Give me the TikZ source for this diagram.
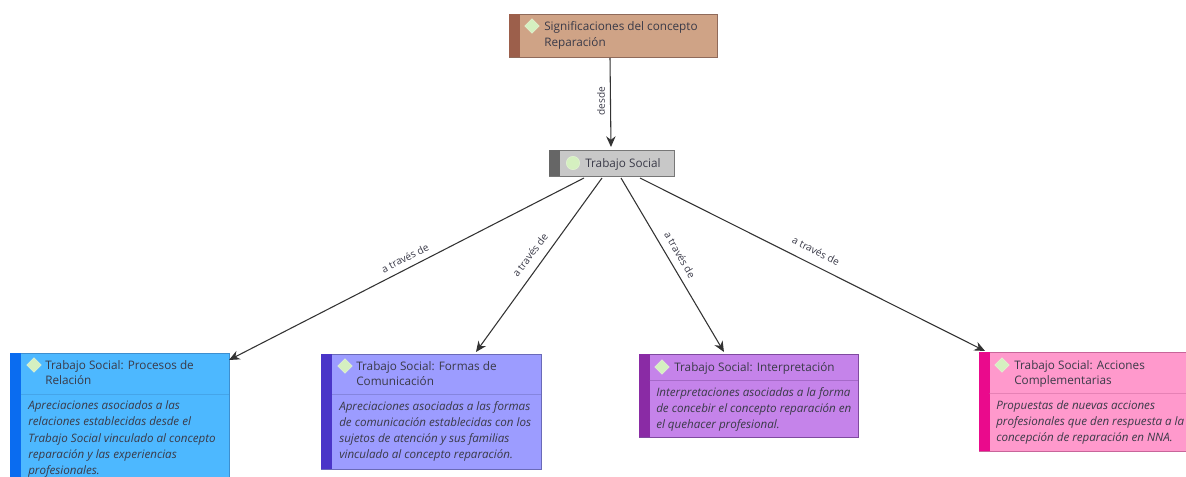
\documentclass[tikz,border=0pt]{standalone}
\usepackage{fontspec}
\setmainfont{Open Sans}
\usetikzlibrary{calc,arrows.meta,shapes.geometric}
\definecolor{cTop}{HTML}{CFA386}\definecolor{sTop}{HTML}{9C5F4B}\definecolor{eTop}{HTML}{8F6A5A}
\definecolor{cTs}{HTML}{C8C8C8}\definecolor{sTs}{HTML}{666666}\definecolor{eTs}{HTML}{777777}
\definecolor{cBl}{HTML}{4DB8FF}\definecolor{sBl}{HTML}{0A6CF0}\definecolor{eBl}{HTML}{3D8FD0}
\definecolor{cPe}{HTML}{9C9CFF}\definecolor{sPe}{HTML}{4A35C8}\definecolor{ePe}{HTML}{6A6AB8}
\definecolor{cPu}{HTML}{C583EA}\definecolor{sPu}{HTML}{8A2BA5}\definecolor{ePu}{HTML}{7F4A9F}
\definecolor{cPi}{HTML}{FF99CC}\definecolor{sPi}{HTML}{EA0A8C}\definecolor{ePi}{HTML}{C8659A}
\definecolor{ink}{HTML}{3A3A48}
\definecolor{gem}{HTML}{D5F0C0}
\tikzset{
  x=0.75pt,y=-0.75pt,
  boxbase/.style={draw,line width=0.7pt,anchor=north west,inner sep=0pt,outer sep=0pt},
  strip/.style={anchor=north west,inner sep=0pt,outer sep=0pt},
  title/.style={anchor=north west,inner sep=0pt,align=left,text=ink,font=\fontsize{8.8pt}{11.8pt}\selectfont},
  desc/.style={anchor=north west,inner sep=0pt,align=left,text=ink,font=\fontsize{8.7pt}{12.2pt}\selectfont\itshape},
  gemstyle/.style={diamond,fill=gem,draw=gem!70!white,minimum size=11pt,inner sep=0pt},
  conn/.style={draw=black!80,line width=0.8pt,-{Stealth[length=8pt,width=7pt]}},
  edgelabel/.style={inner sep=0pt,text=ink,font=\fontsize{7.6pt}{9pt}\selectfont},
  divider/.style={line width=0.4pt,opacity=0.45}
}
\newcommand{\mybox}[8]{% name,x,y,w,h,fill,strip,edge
  \node[boxbase,fill=#6,draw=#8,minimum width=#4*0.75pt,minimum height=#5*0.75pt] (#1) at (#2,#3) {};
  \node[strip,fill=#7,minimum width=10.5*0.75pt,minimum height=#5*0.75pt] (#1s) at (#2,#3) {};
}
\begin{document}
\begin{tikzpicture}
\useasboundingbox (0,0) rectangle (1186,477);
\fill[white] (0,0) rectangle (1186,477);

\mybox{top}{509}{14}{208}{43}{cTop}{sTop}{eTop}
\node[gemstyle] (gt) at (532,26) {};
\node[title] (tt) at (544,21.5) {Significaciones del concepto\\Reparación};

\mybox{ts}{549}{150}{125}{26}{cTs}{sTs}{eTs}
\node[gemstyle,circle,minimum size=10pt] (gs) at (573,163) {};
\node[title] (tts) at (585,158) {Trabajo Social};

\mybox{bl}{10}{353}{219}{130}{cBl}{sBl}{eBl}
\node[gemstyle] (g1) at (34,365) {};
\node[title] (t1) at (45,360) {Trabajo Social: Procesos de\\Relación};
\draw[divider,draw=eBl] (21,394) -- (229,394);
\node[desc] (d1) at (28,400.5) {Apreciaciones asociados a las\\relaciones establecidas desde el\\Trabajo Social vinculado al concepto\\reparación y las experiencias\\profesionales.};

\mybox{pe}{321}{354}{220}{115}{cPe}{sPe}{ePe}
\node[gemstyle] (g2) at (345,366) {};
\node[title] (t2) at (356,361) {Trabajo Social: Formas de\\Comunicación};
\draw[divider,draw=ePe] (332,394) -- (541,394);
\node[desc] (d2) at (339,401) {Apreciaciones asociadas a las formas\\de comunicación establecidas con los\\sujetos de atención y sus familias\\vinculado al concepto reparación.};

\mybox{pu}{639}{354}{219}{83}{cPu}{sPu}{ePu}
\node[gemstyle] (g3) at (662,367) {};
\node[title] (t3) at (674,362) {Trabajo Social: Interpretación};
\draw[divider,draw=ePu] (649,380) -- (858,380);
\node[desc] (d3) at (656,387) {Interpretaciones asociadas a la forma\\de concebir el concepto reparación en\\el quehacer profesional.};

\mybox{pi}{979}{352}{209}{99}{cPi}{sPi}{ePi}
\node[gemstyle] (g4) at (1002,365) {};
\node[title] (t4) at (1014,360) {Trabajo Social: Acciones\\Complementarias};
\draw[divider,draw=ePi] (989,393) -- (1186,393);
\node[desc] (d4) at (996,400) {Propuestas de nuevas acciones\\profesionales que den respuesta a la\\concepción de reparación en NNA.};

\draw[conn] ($(top.south west)!0.4856!(top.south east)+(0,1)$) -- ($(ts.north west)!0.496!(ts.north east)+(0,-3)$);
\draw[conn] ($(ts.south west)!0.28!(ts.south east)+(0,2)$) -- ($(bl.north east)+(0,7)$);
\draw[conn] ($(ts.south west)!0.424!(ts.south east)+(0,2)$) -- ($(pe.north west)!0.7045!(pe.north east)+(0,-2)$);
\draw[conn] ($(ts.south west)!0.576!(ts.south east)+(0,2)$) -- ($(pu.north west)!0.388!(pu.north east)+(0,-2)$);
\draw[conn] ($(ts.south west)!0.728!(ts.south east)+(0,2)$) -- ($(pi.north west)+(6,-1)$);

\node[edgelabel,rotate=90] (l0) at (601,101) {desde};
\node[edgelabel,rotate=27] (l1) at (405,258) {a través de};
\node[edgelabel,rotate=53] (l2) at (530,255) {a través de};
\node[edgelabel,rotate=-60] (l3) at (680,255) {a través de};
\node[edgelabel,rotate=-27] (l4) at (816,251) {a través de};
\end{tikzpicture}
\end{document}
